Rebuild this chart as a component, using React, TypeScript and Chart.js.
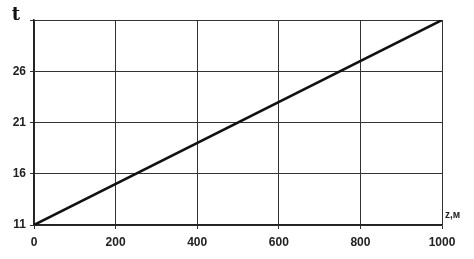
import React, { useEffect, useRef } from "react";
import { Chart, registerables } from "chart.js";

Chart.register(...registerables);

const zValues = [0, 1000];
const tValues = [11, 31];
const yTickTop = 31;
const yAxisLabel = "t";
const xAxisLabel = "z,м";

export default function App() {
  const ref = useRef<HTMLCanvasElement | null>(null);
  useEffect(() => {
    const labelPlugin = {
      id: "axisLabel",
      afterDraw(chart: any) {
        const { ctx, chartArea, scales } = chart;
        ctx.save();
        ctx.fillStyle = "#222";
        ctx.font = "bold 10px 'Liberation Sans', Arial, sans-serif";
        ctx.textAlign = "left";
        ctx.textBaseline = "middle";
        ctx.fillText(xAxisLabel, chartArea.right + 3, chartArea.bottom - 10);
        ctx.font = "bold 18px 'DejaVu Serif', serif";
        ctx.textAlign = "center";
        ctx.fillStyle = "#111";
        ctx.fillText(yAxisLabel, 16, scales.y.getPixelForValue(yTickTop) - 5);
        ctx.restore();
      },
    };
    const chart = new Chart(ref.current as HTMLCanvasElement, {
      type: "line",
      data: {
        datasets: [
          {
            data: zValues.map((z, i) => ({ x: z, y: tValues[i] })),
            borderColor: "#111",
            borderWidth: 2.5,
            pointRadius: 0,
            fill: false,
          },
        ],
      },
      options: {
        responsive: false,
        animation: false,
        layout: { padding: { top: 20, right: 32, left: 0, bottom: 0 } },
        plugins: { legend: { display: false }, tooltip: { enabled: false } },
        scales: {
          x: {
            type: "linear",
            min: 0,
            max: 1000,
            afterFit: (s: any) => {
              s.height = 34;
            },
            ticks: {
              stepSize: 200,
              color: "#222",
              padding: 6,
              maxRotation: 0,
              callback: (v: any) => String(v),
              font: { family: "'Liberation Sans', Arial, sans-serif", size: 12, weight: "bold" },
            },
            grid: { color: "#333", lineWidth: 1, tickLength: 4, drawTicks: true },
            border: { color: "#222", width: 1.5 },
          },
          y: {
            type: "linear",
            min: 11,
            max: yTickTop,
            afterFit: (s: any) => {
              s.width = 34;
            },
            ticks: {
              stepSize: 5,
              color: "#222",
              padding: 4,
              callback: (v: any) => (v === yTickTop ? "" : String(v)),
              font: { family: "'Liberation Sans', Arial, sans-serif", size: 12, weight: "bold" },
            },
            grid: { color: "#333", lineWidth: 1, tickLength: 4 },
            border: { color: "#222", width: 1.5 },
          },
        },
      },
      plugins: [labelPlugin],
    } as any);
    return () => chart.destroy();
  }, []);
  return (
    <div style={{ position: "fixed", left: 0, top: 0, width: 474, height: 259, background: "#fff" }}>
      <canvas ref={ref} width={474} height={259} style={{ width: 474, height: 259 }} />
    </div>
  );
}
